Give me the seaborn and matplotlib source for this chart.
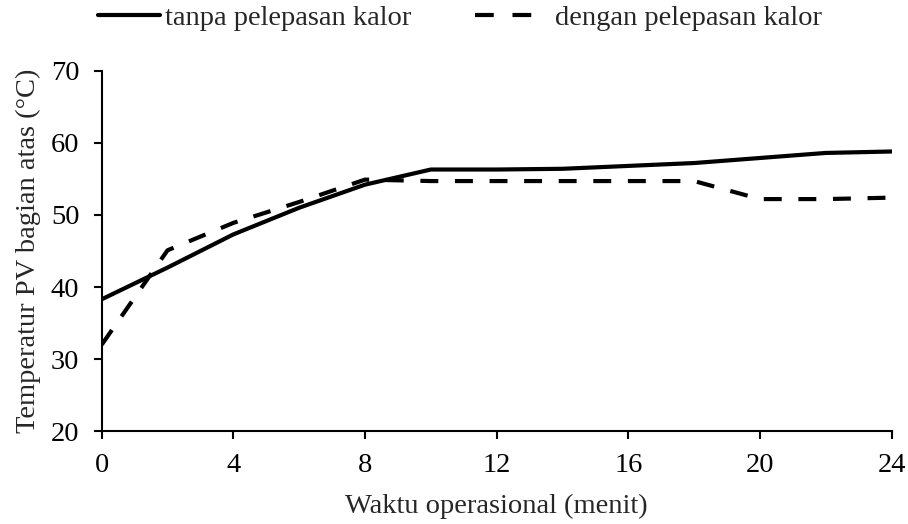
import pandas as pd
import matplotlib.pyplot as plt
import seaborn as sns
from matplotlib.lines import Line2D

# time in minutes
waktu = [0, 2, 4, 6, 8, 10, 12, 14, 16, 18, 20, 22, 24]
tanpa = [38.3, 42.7, 47.3, 51.0, 54.2, 56.3, 56.3, 56.4, 56.8, 57.2, 57.9, 58.6, 58.8]
dengan = [32.0, 45.1, 48.9, 51.8, 54.9, 54.7, 54.7, 54.7, 54.7, 54.7, 52.2, 52.2, 52.4]
labels = ["tanpa pelepasan kalor", "dengan pelepasan kalor"]

df = pd.DataFrame({
    "waktu": waktu * 2,
    "suhu": tanpa + dengan,
    "seri": [labels[0]] * len(waktu) + [labels[1]] * len(waktu),
})

sns.set_theme(style="ticks")
plt.rcParams["font.family"] = ["Liberation Serif", "DejaVu Serif"]
fs = 20.5

fig = plt.figure(figsize=(9.08, 5.24), dpi=100)
ax = fig.add_axes([0.112, 0.177, 0.870, 0.688])

sns.lineplot(data=df, x="waktu", y="suhu", style="seri", color="black",
             dashes={labels[0]: "", labels[1]: (4.3, 4)}, linewidth=3,
             ax=ax, legend=False)

ax.set_xlim(0, 24)
ax.set_ylim(20, 70)
ax.set_xticks(range(0, 25, 4))
ax.set_yticks(range(20, 71, 10))
ax.tick_params(labelsize=fs, direction="out", length=6, width=1.5,
               colors="black", pad=10)
for s in ["left", "bottom"]:
    ax.spines[s].set_linewidth(1.5)
    ax.spines[s].set_color("black")
sns.despine(ax=ax)
ax.set_xlabel("Waktu operasional (menit)", fontsize=fs, labelpad=11)
ax.set_ylabel("Temperatur PV bagian atas (°C)", fontsize=fs, labelpad=7)

# two separate legends so each entry keeps its own spacing
h1 = Line2D([], [], color="black", lw=3)
h2 = Line2D([], [], color="black", lw=3, dashes=(4.5, 4.5))
fig.legend([h1], [labels[0]], loc="center left",
           bbox_to_anchor=(0.108, 0.965), frameon=False, fontsize=fs,
           handlelength=2.18, handletextpad=0.18, borderpad=0,
           borderaxespad=0)
fig.legend([h2], [labels[1]], loc="center left",
           bbox_to_anchor=(0.523, 0.965), frameon=False, fontsize=fs,
           handlelength=2.05, handletextpad=0.77, borderpad=0,
           borderaxespad=0)

fig.savefig("out.png", dpi=100)
